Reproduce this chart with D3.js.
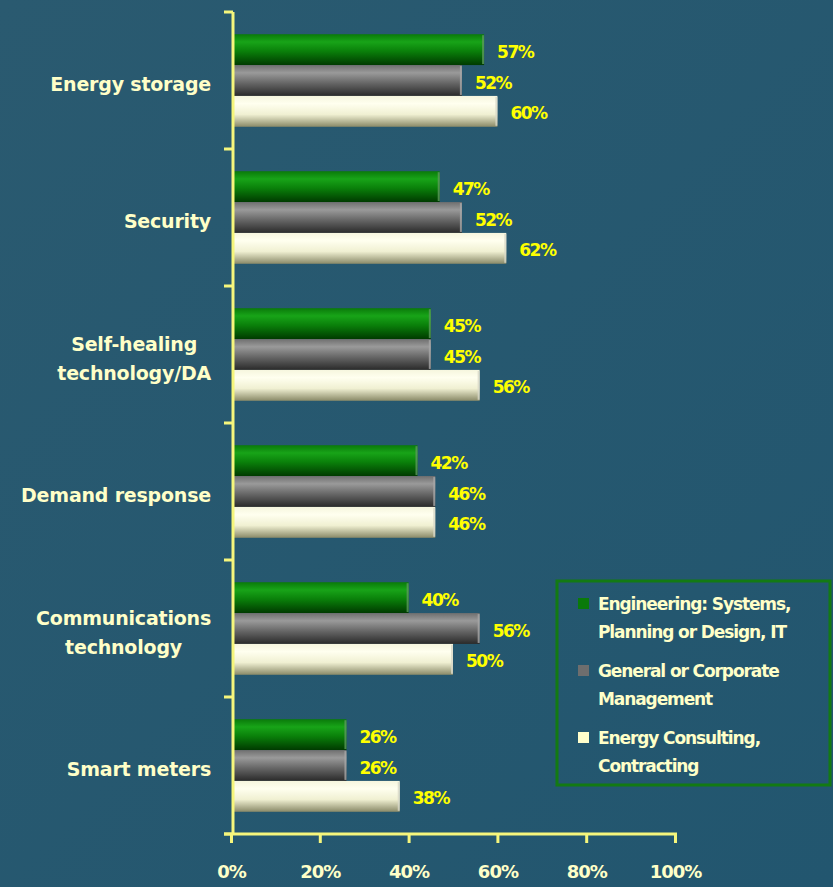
<!DOCTYPE html>
<html>
<head>
<meta charset="utf-8">
<script src="https://cdn.jsdelivr.net/npm/d3@7/dist/d3.min.js"></script>
<style>
  html, body { margin: 0; padding: 0; background: #245a73; }
  svg { display: block; }
</style>
</head>
<body>
<svg id="chart" width="833" height="887"></svg>
<script>
const categories = [
  ["Energy storage"],
  ["Security"],
  ["Self-healing", "technology/DA"],
  ["Demand response"],
  ["Communications", "technology"],
  ["Smart meters"]
];
const seriesNames = [
  ["Engineering: Systems,", "Planning or Design, IT"],
  ["General or Corporate", "Management"],
  ["Energy Consulting,", "Contracting"]
];
const engineering = [57, 47, 45, 42, 40, 26];
const management  = [52, 52, 45, 46, 56, 26];
const consulting  = [60, 62, 56, 46, 50, 38];
const xTicks = [0, 20, 40, 60, 80, 100];

const seriesValues = [engineering, management, consulting];
const W = 833, H = 887;
const svg = d3.select("#chart");

const defs = svg.append("defs");
const bg = defs.append("linearGradient").attr("id", "bg").attr("x1", 0).attr("y1", 0).attr("x2", 1).attr("y2", 1);
bg.append("stop").attr("offset", "0%").attr("stop-color", "#2a5a70");
bg.append("stop").attr("offset", "100%").attr("stop-color", "#22566f");
svg.append("rect").attr("width", W).attr("height", H).attr("fill", "url(#bg)");

const gradSpecs = [
  {id: "gGreen", stops: [["0%", "#0a7a0a"], ["25%", "#18a418"], ["55%", "#0a800a"], ["100%", "#003a00"]], cap: "#5c9a5c"},
  {id: "gGray",  stops: [["0%", "#6f6f6f"], ["25%", "#9a9a9a"], ["60%", "#646464"], ["100%", "#2a2a2a"]], cap: "#a8a8a8"},
  {id: "gWhite", stops: [["0%", "#f6f6de"], ["25%", "#ffffef"], ["60%", "#f0f0d2"], ["100%", "#8a8a68"]], cap: "#d8d8c8"}
];
gradSpecs.forEach(s => {
  const g = defs.append("linearGradient").attr("id", s.id).attr("x1", 0).attr("y1", 0).attr("x2", 0).attr("y2", 1);
  s.stops.forEach(st => g.append("stop").attr("offset", st[0]).attr("stop-color", st[1]));
});

const plotLeft = 233, plotTop = 12, plotBottom = 834;
const x = d3.scaleLinear().domain([0, 100]).range([231, 675]);
const catIdx = d3.range(categories.length);
const y0 = d3.scaleBand().domain(catIdx).range([plotTop, plotBottom]).padding(0);
const y1 = d3.scaleBand().domain([0, 1, 2]).range([0, y0.bandwidth()]).paddingInner(0).paddingOuter(0.72);

const axisColor = "#f6f67c";
const labelColor = "#ffffc8";
const fontFam = "'DejaVu Sans', 'Liberation Sans', Arial, sans-serif";

const groups = svg.append("g").selectAll("g").data(catIdx).join("g")
  .attr("transform", i => `translate(0,${y0(i)})`);

groups.each(function(ci) {
  const g = d3.select(this);
  seriesValues.forEach((vals, si) => {
    const v = vals[ci];
    const yy = y1(si), h = y1.bandwidth();
    g.append("rect")
      .attr("x", x(0) + 2).attr("y", yy)
      .attr("width", x(v) - x(0) - 2).attr("height", h)
      .attr("fill", `url(#${gradSpecs[si].id})`);
    g.append("rect")
      .attr("x", x(v) - 2).attr("y", yy + 1)
      .attr("width", 2).attr("height", h - 2)
      .attr("fill", gradSpecs[si].cap).attr("opacity", 0.8);
    g.append("text")
      .attr("x", x(v) + 13).attr("y", yy + h / 2 + 2)
      .attr("dy", "0.36em")
      .attr("fill", "#ffff00")
      .attr("font-family", fontFam).attr("font-weight", "bold")
      .attr("font-size", 17).attr("letter-spacing", -1.5)
      .text(v + "%");
  });
});

const yAxis = svg.append("g");
yAxis.append("line").attr("x1", plotLeft).attr("x2", plotLeft).attr("y1", plotTop).attr("y2", plotBottom)
  .attr("stroke", axisColor).attr("stroke-width", 3);
d3.range(categories.length + 1).forEach(i => {
  const yy = i < categories.length ? y0(i) : plotBottom;
  yAxis.append("line").attr("x1", plotLeft - 9).attr("x2", plotLeft).attr("y1", yy).attr("y2", yy)
    .attr("stroke", axisColor).attr("stroke-width", 3);
});

catIdx.forEach(ci => {
  const lines = categories[ci];
  const cy = y0(ci) + y0.bandwidth() / 2 + 4;
  const lh = 29;
  const g = svg.append("g");
  const texts = lines.map((l, k) => g.append("text")
    .attr("y", cy + (k - (lines.length - 1) / 2) * lh)
    .attr("dy", "0.36em")
    .attr("fill", labelColor)
    .attr("font-family", fontFam).attr("font-weight", "bold")
    .attr("font-size", 19).attr("letter-spacing", -0.2).attr("text-anchor", "middle")
    .text(l));
  const maxW = d3.max(texts, t => t.node().getComputedTextLength());
  texts.forEach(t => t.attr("x", 211 - maxW / 2));
});

const xAxis = svg.append("g").attr("transform", `translate(0,${plotBottom})`)
  .call(d3.axisBottom(x).tickValues(xTicks).tickSize(9).tickFormat(d => d + "%"));
xAxis.select(".domain").remove();
xAxis.insert("line", ":first-child").attr("x1", 224).attr("x2", 677).attr("y1", 0).attr("y2", 0)
  .attr("stroke", axisColor).attr("stroke-width", 3);
xAxis.selectAll(".tick line").attr("stroke", axisColor).attr("stroke-width", 3);
xAxis.selectAll(".tick text")
  .attr("fill", labelColor).attr("font-family", fontFam).attr("font-weight", "bold")
  .attr("font-size", 18).attr("y", 31).attr("dy", "0.71em").attr("letter-spacing", -1);

const lg = svg.append("g");
lg.append("rect").attr("x", 557).attr("y", 581).attr("width", 273).attr("height", 204)
  .attr("fill", "none").attr("stroke", "#137a13").attr("stroke-width", 3);
const legendColors = ["#0a7a0a", "#6e6e6e", "#ffffcc"];
seriesNames.forEach((lines, si) => {
  const y = 604 + si * 67;
  lg.append("rect").attr("x", 578).attr("y", y - 6).attr("width", 11).attr("height", 11)
    .attr("fill", legendColors[si]);
  lines.forEach((l, k) => {
    lg.append("text").attr("x", 598).attr("y", y + k * 28).attr("dy", "0.36em")
      .attr("fill", labelColor).attr("font-family", fontFam).attr("font-weight", "bold")
      .attr("font-size", 17).attr("letter-spacing", -1.1).text(l);
  });
});
</script>
</body>
</html>
